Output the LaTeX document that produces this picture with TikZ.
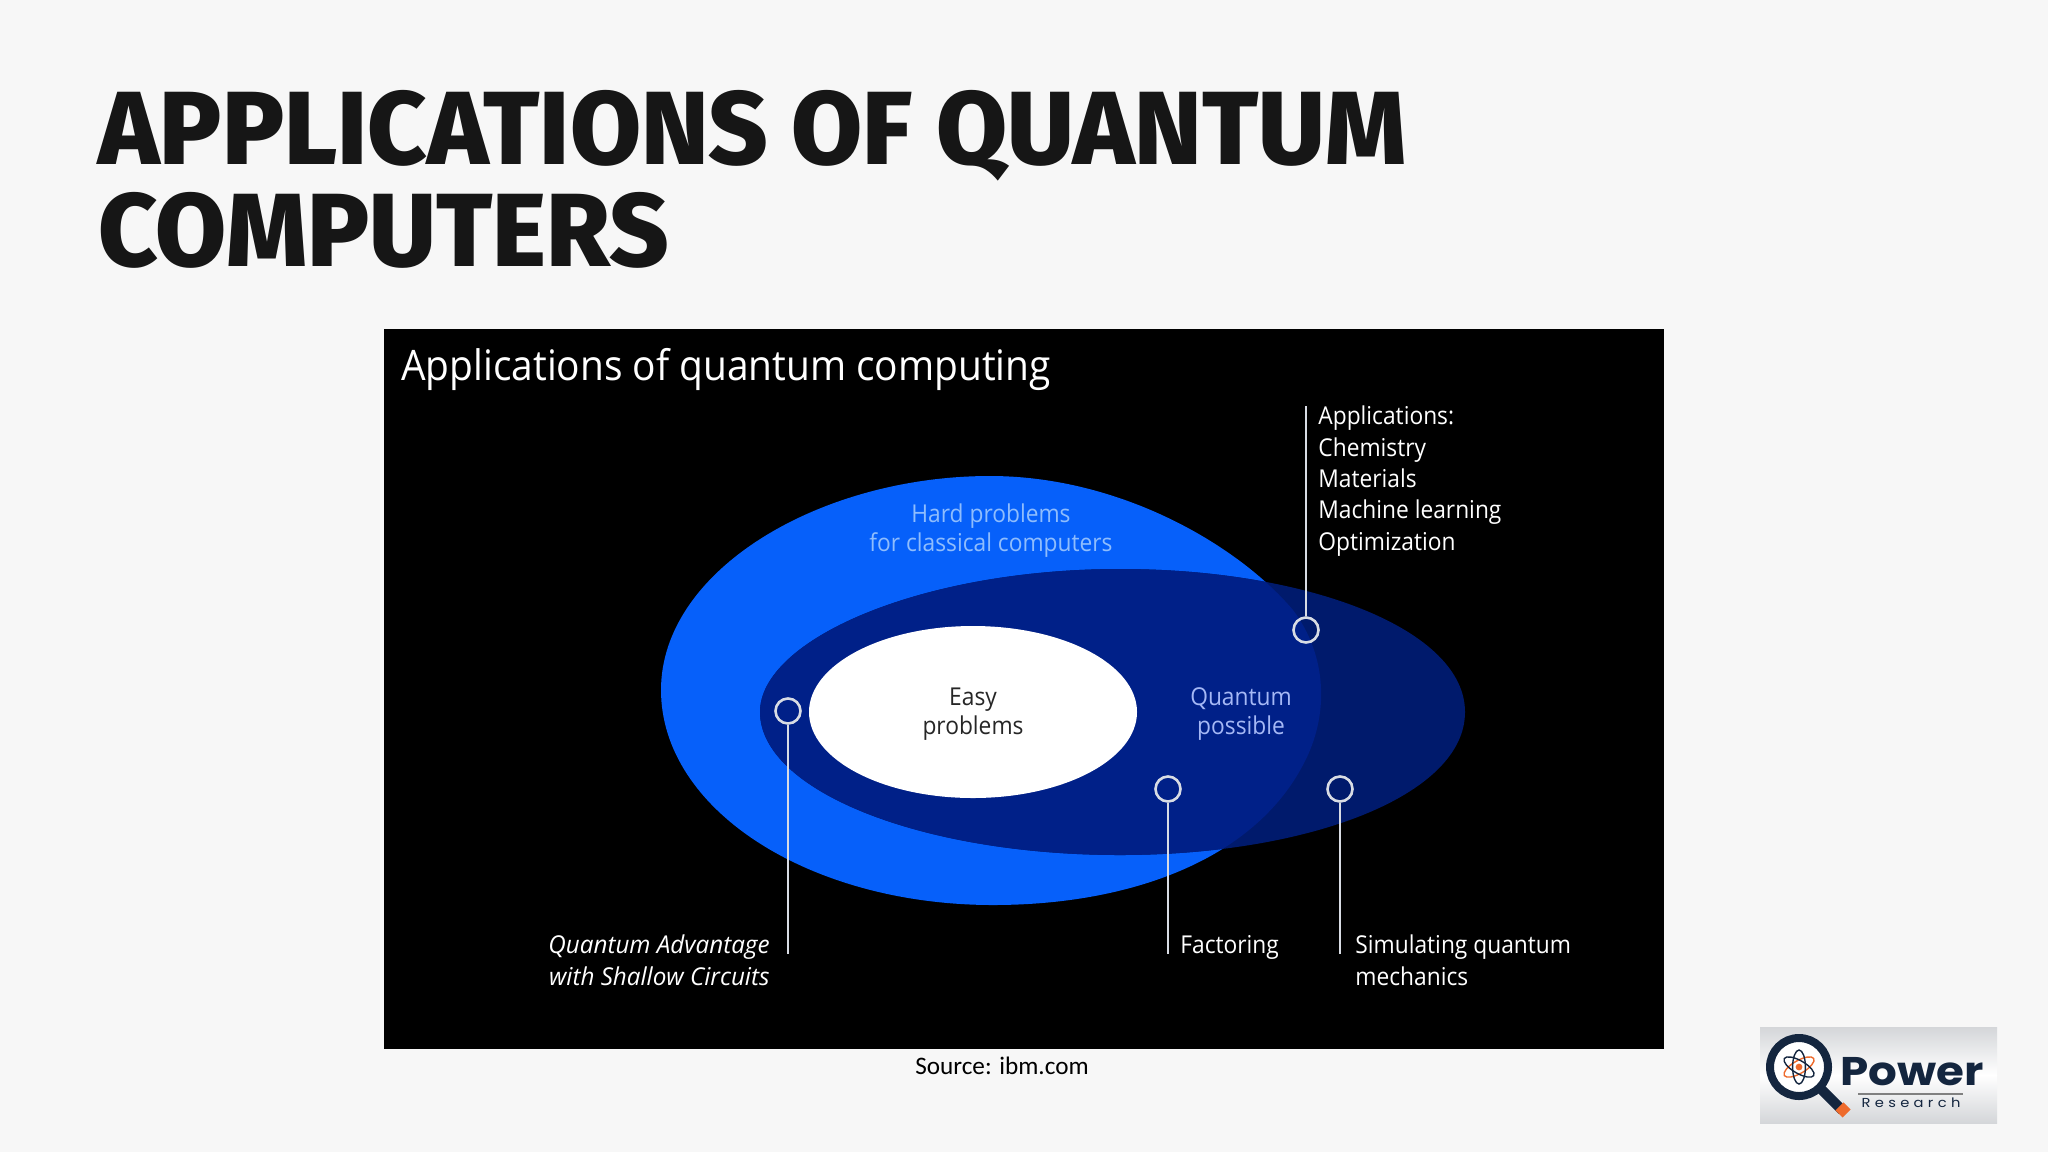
\documentclass[tikz,border=0pt]{standalone}
\usepackage{fontspec}
\setmainfont{Carlito}
\newfontfamily\ttlfont{Fira Sans ExtraBold}[FakeStretch=0.99]
\newfontfamily\imgfont{Open Sans}[FakeStretch=0.925]
\newfontfamily\imgitfont{Open Sans Italic}[FakeStretch=0.985]
\newfontfamily\logofont{Poppins}[FakeStretch=1.13]
\usetikzlibrary{shapes.geometric}
\definecolor{pagebg}{HTML}{F7F7F7}
\definecolor{ttlink}{HTML}{161616}
\definecolor{blobblue}{HTML}{0660FA}
\definecolor{overlapblue}{HTML}{002088}
\definecolor{outerblue}{HTML}{001A6C}
\definecolor{hardtxt}{HTML}{8FBDFD}
\definecolor{qtxt}{HTML}{A5B8F5}
\definecolor{linegrey}{HTML}{D8DCE4}
\definecolor{navy}{HTML}{14263F}
\definecolor{logoorange}{HTML}{EE6A2C}
\definecolor{logogrey}{HTML}{D4D6D9}
\tikzset{
  ttl/.style={anchor=base west,inner sep=0pt,text=ttlink,font=\ttlfont\fontsize{52}{51}\selectfont},
  imgtext/.style={inner sep=0pt,font=\imgfont\fontsize{12.3}{15.65}\selectfont},
  intext/.style={inner sep=0pt,align=center,anchor=base,font=\imgfont\fontsize{12.3}{14.5}\selectfont},
  marker/.style={circle,draw=linegrey,line width=1.3pt,minimum size=12.5pt,inner sep=0pt},
  leader/.style={draw=linegrey,line width=1pt},
}
\begin{document}
\begin{tikzpicture}[x=0.5pt,y=-0.5pt]
\useasboundingbox (0,0) rectangle (2048,1152);
\fill[pagebg] (0,0) rectangle (2048,1152);
\node[ttl] (t1) at (98,164) {APPLICATIONS OF QUANTUM};
\node[ttl] (t2) at (98,266) {COMPUTERS};
% image
\fill[black] (384,329) rectangle (1664,1049);
\def\blobpath{(990,476) .. controls (1120,476) and (1238,545) .. (1293,610)
  .. controls (1327,655) and (1330,715) .. (1303,765)
  .. controls (1253,860) and (1130,905) .. (993,905)
  .. controls (810,905) and (661,810) .. (661,690)
  .. controls (661,570) and (820,476) .. (990,476) -- cycle}
\def\darkpath{(1120,569) .. controls (1310,569) and (1465,630) .. (1465,712)
  .. controls (1465,795) and (1310,855) .. (1120,855)
  .. controls (920,855) and (760,790) .. (760,712)
  .. controls (760,640) and (920,569) .. (1120,569) -- cycle}
\fill[blobblue] \blobpath;
\fill[outerblue] \darkpath;
\begin{scope}
  \clip \blobpath;
  \fill[overlapblue] \darkpath;
\end{scope}
\node[ellipse,fill=white,minimum width=164pt,minimum height=86pt,inner sep=0pt] (easy) at (973,712) {};
\node[intext,text=hardtxt] (hard) at (991,551) {Hard problems\\for classical computers};
\node[intext,text=black!85] (easyt) at (973,734) {Easy\\problems};
\node[intext,text=qtxt] (qp) at (1241,734) {Quantum\\possible};
\node[imgtext,text=white,anchor=base west,font=\imgfont\fontsize{21}{24}\selectfont] (head) at (401,380) {Applications of quantum computing};
\node[imgtext,text=white,align=left,anchor=base west] (apps) at (1318,550) {Applications:\\Chemistry\\Materials\\Machine learning\\Optimization};
\node[imgtext,text=white,align=right,anchor=base east,font=\imgitfont\fontsize{12.3}{15.65}\selectfont] (qa) at (770,985) {Quantum Advantage\\with Shallow Circuits};
\node[imgtext,text=white,anchor=base west] (fac) at (1180,953) {Factoring};
\node[imgtext,text=white,align=left,anchor=base west] (sim) at (1355,985) {Simulating quantum\\mechanics};
\node[marker] (m1) at (1306,630) {};
\node[marker] (m2) at (788,711) {};
\node[marker] (m3) at (1168,789) {};
\node[marker] (m4) at (1340,789) {};
\coordinate (e1) at (1305,406);
\coordinate (e2) at (788,954);
\coordinate (e3) at (1168,954);
\coordinate (e4) at (1340,954);
\draw[leader] (m1) -- (m1 |- e1);
\draw[leader] (m2) -- (m2 |- e2);
\draw[leader] (m3) -- (m3 |- e3);
\draw[leader] (m4) -- (m4 |- e4);
\node[anchor=base,inner sep=0pt,text=black,font=\fontsize{12.6}{16}\selectfont] (src) at (1002,1074) {Source: ibm.com};
% logo
\shade[top color=logogrey,bottom color=logogrey,middle color=white] (1760,1027) rectangle (1997,1123);
\draw[navy,line width=5pt,line cap=round] (1822,1090) -- (1842,1110);
\draw[logoorange,line width=5pt] (1839,1114) -- (1847,1106);
\node[circle,draw=navy,line width=4pt,fill=white,minimum size=29pt,inner sep=0pt] (lens) at (1799,1067) {};
\begin{scope}[shift={(1799,1067)}]
  \draw[logoorange,line width=.7pt,rotate=30] (0,0) ellipse [x radius=8.5pt,y radius=3.2pt];
  \draw[navy,line width=.7pt,rotate=-30] (0,0) ellipse [x radius=8.5pt,y radius=3.2pt];
  \draw[navy,line width=.7pt,rotate=90] (0,0) ellipse [x radius=8.5pt,y radius=3.2pt];
  \fill[logoorange] (0,0) circle [radius=1.7pt];
\end{scope}
\node[anchor=base west,inner sep=0pt,text=navy,font=\logofont\bfseries\fontsize{20}{20}\selectfont] (pw) at (1840,1085) {Power};
\coordinate (rl) at (1858,1094);
\coordinate (rr) at (1963,1094);
\draw[gray,line width=.9pt] (rl) -- (rr);
\node[anchor=base,inner sep=0pt,text=navy,font=\logofont\fontsize{6.5}{7}\selectfont] (rs) at (1911,1107.5) {R\,\,e\,\,s\,\,e\,\,a\,\,r\,\,c\,\,h};
\end{tikzpicture}
\end{document}
